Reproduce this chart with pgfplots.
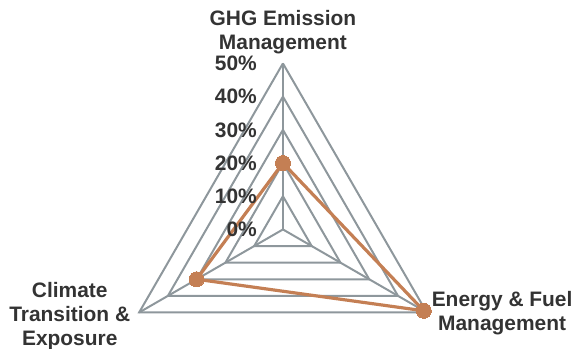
\documentclass[border=0pt]{standalone}
\usepackage{pgfplots}
\pgfplotsset{compat=1.18}
\usepackage{fontspec}
\setmainfont{Liberation Sans}
\definecolor{gridc}{RGB}{142,151,156}
\definecolor{datac}{RGB}{196,127,84}
\definecolor{txt}{RGB}{51,51,51}
\begin{document}
\begin{tikzpicture}
\useasboundingbox (0,0) rectangle (575bp,349bp);
\begin{axis}[
  at={(0,0)}, anchor=south west,
  scale only axis, width=575bp, height=349bp,
  xmin=-85.2, xmax=87.95, ymin=-36.0, ymax=69.1,
  hide axis, clip=false,
]
% grid triangles
\foreach \r in {10,20,30,40,50}{
  \edef\tmp{\noexpand\addplot[gridc, line width=2pt, data cs=polar, mark=none] coordinates {(90,\r) (-30,\r) (210,\r) (90,\r)};}
  \tmp
}
% spokes
\addplot[gridc, line width=2pt, data cs=polar, mark=none] coordinates {(90,0) (90,50)};
\addplot[gridc, line width=2pt, data cs=polar, mark=none] coordinates {(-30,0) (-30,50)};
\addplot[gridc, line width=2pt, data cs=polar, mark=none] coordinates {(210,0) (210,50)};
% data series
\addplot[datac, line width=3.2pt, data cs=polar, mark=*, mark size=7.5bp, mark options={fill=datac, draw=datac, line width=0pt}] coordinates {(90,20) (-30,49) (210,30) (90,20)};
% radial tick labels
\foreach \r in {0,10,20,30,40,50}{
  \edef\tmp{\noexpand\node[anchor=east, text=txt, font=\noexpand\fontsize{21}{25}\noexpand\selectfont\noexpand\bfseries, inner sep=0pt] at (axis cs:-7.8,\r) {\r\noexpand\%};}
  \tmp
}
% category labels
\node[align=center, text=txt, font=\fontsize{21}{24}\selectfont\bfseries, inner sep=0pt] at (axis cs:0,59.5) {GHG Emission\\Management};
\node[align=center, text=txt, font=\fontsize{21}{24}\selectfont\bfseries, inner sep=0pt] at (axis cs:66,-25.3) {Energy \& Fuel\\Management};
\node[align=center, text=txt, font=\fontsize{21}{24}\selectfont\bfseries, inner sep=0pt] at (axis cs:-64.2,-26.05) {Climate\\Transition \&\\Exposure};
\end{axis}
\end{tikzpicture}
\end{document}
